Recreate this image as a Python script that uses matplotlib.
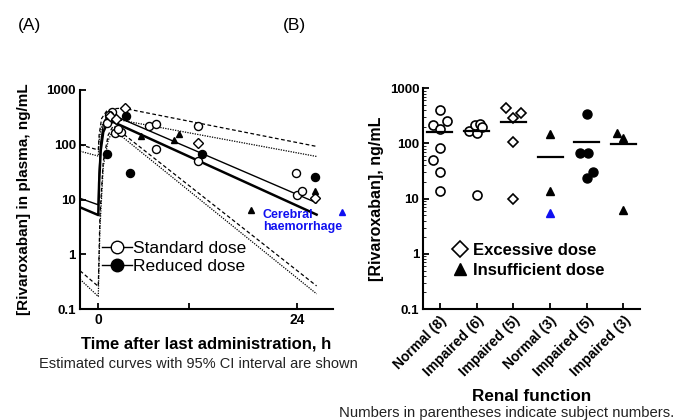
import matplotlib
matplotlib.use("Agg")
import matplotlib.pyplot as plt
from matplotlib.lines import Line2D

plt.rcParams['font.family'] = ['Liberation Sans', 'DejaVu Sans']

# ---- panel A: concentration vs time ----
# estimated curves (vertices)
std_t = [-2.2, 0, 0.1, 0.3, 0.6, 1.0, 1.5, 26.4]
std_c = [10.5, 8.0, 30, 110, 230, 320, 360, 8.7]
red_t = [-2.2, 0, 0.1, 0.3, 0.6, 1.0, 1.8, 26.4]
red_c = [7.2, 5.2, 20, 80, 170, 230, 260, 5.3]
ci_up1_t = [-2.2, 0, 0.1, 0.4, 1.0, 2.0, 3.0, 26.4]
ci_up1_c = [100, 80, 150, 300, 410, 455, 464, 93]
ci_up2_t = [-2.2, 0, 0.1, 0.4, 0.8, 1.4, 26.4]
ci_up2_c = [76, 62, 120, 220, 280, 305, 61]
ci_lo1_t = [-2.2, 0, 0.2, 0.6, 1.2, 1.8, 26.4]
ci_lo1_c = [0.5, 0.26, 5, 50, 150, 220, 0.265]
ci_lo2_t = [-2.2, 0, 0.2, 0.6, 1.2, 1.8, 26.4]
ci_lo2_c = [0.35, 0.17, 3, 40, 120, 190, 0.19]

# observed concentrations
open_t = [1.6, 1.3, 1.0, 2.0, 2.8, 6.1, 7.0, 12.0, 7.0, 12.0, 23.9, 24.0, 24.6, 2.4]
open_c = [400, 350, 250, 165, 170, 215, 240, 220, 84, 50, 31, 12.3, 14.2, 190]
dia_t = [3.2, 1.4, 2.2, 12.0, 26.2]
dia_c = [460, 330, 290, 107, 10.5]
fill_t = [3.4, 1.1, 3.8, 12.6, 26.2]
fill_c = [335, 69, 31, 69, 26]
tri_t = [5.2, 9.2, 9.8, 18.5, 26.2]
tri_c = [142, 120, 157, 6.4, 14]
ich_t = [29.5]
ich_c = [6.0]

# ---- panel B: by renal function ----
groups = ['Normal (8)', 'Impaired (6)', 'Impaired (5)', 'Normal (3)',
          'Impaired (5)', 'Impaired (3)']
g1_x = [0, -0.18, 0.2, 0, 0, -0.18, 0, 0]
g1_y = [400, 220, 255, 185, 82, 50, 30, 13.5]
g2_x = [-0.2, 0, -0.05, 0.1, 0.15, 0]
g2_y = [168, 152, 212, 225, 200, 11.8]
g3_x = [-0.2, 0.2, 0, 0, 0]
g3_y = [445, 360, 292, 104, 10]
g4_x = [0, 0]
g4_y = [148, 13.5]
g4_blue_x = [0]
g4_blue_y = [5.6]
g5_x = [0, -0.18, 0.04, 0, 0.18]
g5_y = [340, 66, 66, 24, 30]
g6_x = [-0.18, 0, 0]
g6_y = [156, 124, 6.2]
means = [158, 168, 247, 57, 107, 96]

fig = plt.figure(figsize=(6.73, 4.2), dpi=100)
axA = fig.add_axes([0.119, 0.264, 0.376, 0.522])
axB = fig.add_axes([0.629, 0.264, 0.322, 0.526])

for ax in (axA, axB):
    ax.set_yscale('log')
    ax.set_ylim(0.1, 1000)
    ax.spines['top'].set_visible(False)
    ax.spines['right'].set_visible(False)
    ax.spines['left'].set_linewidth(1.5)
    ax.spines['bottom'].set_linewidth(1.5)
    ax.set_yticks([0.1, 1, 10, 100, 1000])
    ax.set_yticklabels(['0.1', '1', '10', '100', '1000'], fontweight='bold', fontsize=9.5)
    ax.tick_params(direction='in', width=1.3, length=4, pad=3)
    ax.tick_params(which='minor', direction='in', length=2)

# panel A
axA.set_xlim(-2.2, 28.4)
axA.set_xticks([0, 11, 24])
axA.set_xticklabels(['0', '', '24'], fontweight='bold', fontsize=10)
axA.tick_params(axis='y', which='minor', length=0)

axA.plot(ci_up1_t, ci_up1_c, color='black', lw=0.9, ls=(0, (3, 2)))
axA.plot(ci_up2_t, ci_up2_c, color='black', lw=0.9, ls=(0, (1, 1)))
axA.plot(ci_lo1_t, ci_lo1_c, color='black', lw=0.9, ls=(0, (3, 2)))
axA.plot(ci_lo2_t, ci_lo2_c, color='black', lw=0.9, ls=(0, (1, 1)))
axA.plot(std_t, std_c, color='black', lw=1.0)
axA.plot(red_t, red_c, color='black', lw=1.8)

axA.plot(open_t, open_c, 'o', ms=5.8, mfc='white', mec='black', mew=1.0)
axA.plot(dia_t, dia_c, 'D', ms=4.8, mfc='white', mec='black', mew=1.0)
axA.plot(fill_t, fill_c, 'o', ms=5.8, mfc='black', mec='black')
axA.plot(tri_t, tri_c, '^', ms=5, mfc='black', mec='black')
axA.plot(ich_t, ich_c, '^', ms=5, mfc='#1010f0', mec='#1010f0', clip_on=False)
axA.text(19.9, 6.8, 'Cerebral\nhaemorrhage', color='#1010f0', fontsize=9,
         fontweight='bold', va='top', ha='left', linespacing=1.0)

hA = [Line2D([], [], color='black', lw=1, marker='o', ms=9, mfc='white', mec='black'),
      Line2D([], [], color='black', lw=1, marker='o', ms=9, mfc='black', mec='black')]
axA.legend(hA, ['Standard dose', 'Reduced dose'], loc='lower left',
           bbox_to_anchor=(0.06, 0.13), frameon=False, handlelength=1.7,
           handletextpad=0.1, labelspacing=0.15, borderaxespad=0,
           prop={'size': 12.5})

axA.set_xlabel('Time after last administration, h', fontweight='bold', fontsize=12, labelpad=6.5)
axA.set_ylabel('[Rivaroxaban] in plasma, ng/mL', fontweight='bold', fontsize=11, labelpad=11)
fig.text(0.295, 0.125, 'Estimated curves with 95% CI interval are shown', fontsize=10.5,
         ha='center', color='#222222')

# panel B
axB.set_xlim(-0.45, 5.45)
axB.set_xticks(range(len(groups)))
axB.set_xticklabels(groups, rotation=45, ha='right', rotation_mode='anchor',
                    fontweight='bold', fontsize=10)
axB.plot(g1_x, g1_y, 'o', ms=6.5, mfc='white', mec='black', mew=1.2, ls='none')
axB.plot([1 + v for v in g2_x], g2_y, 'o', ms=6.5, mfc='white', mec='black', mew=1.2, ls='none')
axB.plot([2 + v for v in g3_x], g3_y, 'D', ms=5.5, mfc='white', mec='black', mew=1.2, ls='none')
axB.plot([3 + v for v in g4_x], g4_y, '^', ms=5.5, mfc='black', mec='black', ls='none')
axB.plot([3 + v for v in g4_blue_x], g4_blue_y, '^', ms=5.5, mfc='#1010f0', mec='#1010f0', ls='none')
axB.plot([4 + v for v in g5_x], g5_y, 'o', ms=6.5, mfc='black', mec='black', ls='none')
axB.plot([5 + v for v in g6_x], g6_y, '^', ms=5.5, mfc='black', mec='black', ls='none')
for i, m in enumerate(means):
    axB.plot([i - 0.34, i + 0.34], [m, m], color='black', lw=1.6)

hB = [Line2D([], [], marker='D', ms=8, mfc='white', mec='black', mew=1.2, ls='none'),
      Line2D([], [], marker='^', ms=8, mfc='black', mec='black', ls='none')]
axB.legend(hB, ['Excessive dose', 'Insufficient dose'], loc='lower left',
           bbox_to_anchor=(0.1, 0.11), frameon=False, handlelength=1.0,
           handletextpad=0.3, labelspacing=0.3, borderaxespad=0,
           prop={'size': 12, 'weight': 'bold'})
axB.set_ylabel('[Rivaroxaban], ng/mL', fontweight='bold', fontsize=11.5, labelpad=4)
axB.set_xlabel('Renal function', fontweight='bold', fontsize=12.3, labelpad=7)
fig.text(0.503, 0.0, 'Numbers in parentheses indicate subject numbers.', fontsize=10.7,
         ha='left', va='bottom', color='#222222')

fig.text(0.027, 0.94, '(A)', fontsize=12.5, va='center')
fig.text(0.42, 0.94, '(B)', fontsize=12.5, va='center')

fig.savefig('out.png', dpi=100)
